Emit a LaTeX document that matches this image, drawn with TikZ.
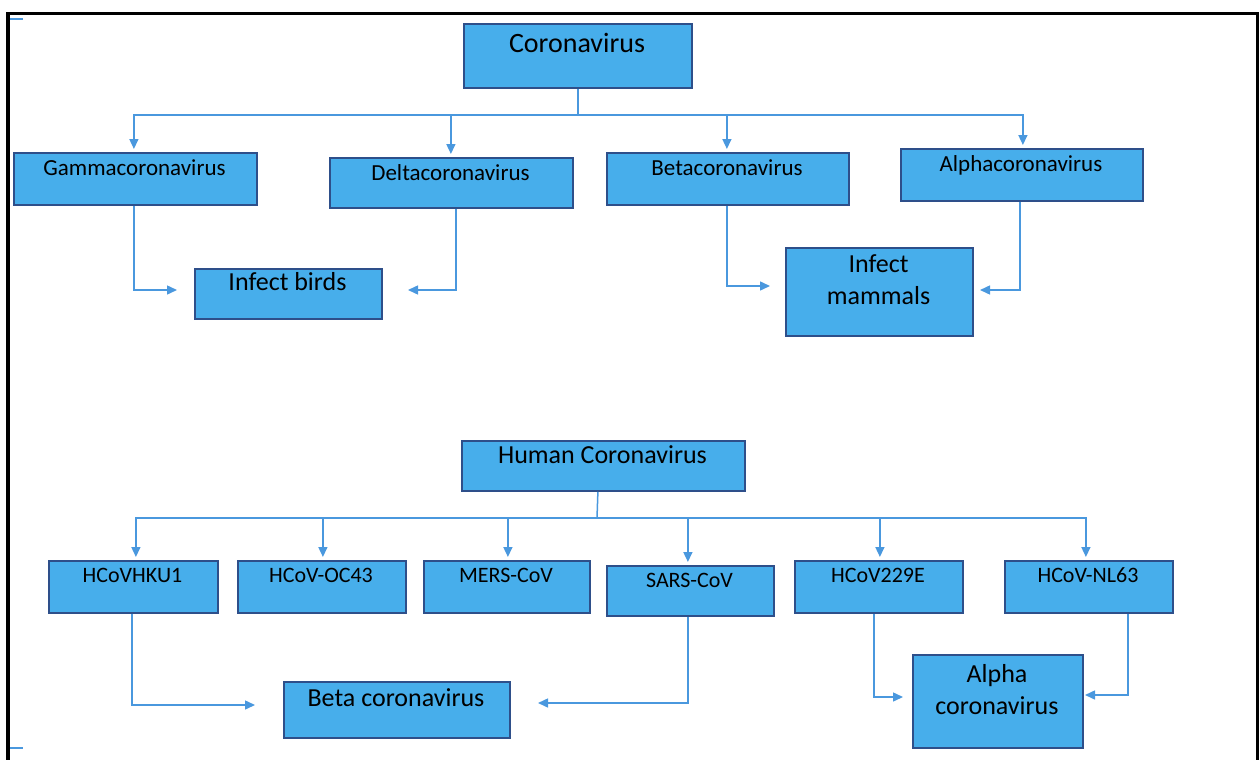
\documentclass[tikz,border=0pt]{standalone}
\usepackage{fontspec}
\setmainfont{Carlito}
\usetikzlibrary{arrows.meta}
\definecolor{boxfill}{HTML}{47AEEB}
\definecolor{boxline}{HTML}{2E4F8A}
\definecolor{arrowc}{HTML}{4A98DE}
\tikzset{
  box/.style={draw=boxline, fill=boxfill, line width=1.8pt, inner sep=0pt, anchor=north west},
  lbl/.style={text=black, inner sep=0pt, anchor=mid, align=center, yshift=-3.5pt},
  fa/.style={font=\fontsize{28}{30}\selectfont},
  fb/.style={font=\fontsize{23}{26}\selectfont},
  fc/.style={font=\fontsize{26}{32}\selectfont},
  fd/.style={font=\fontsize{22}{26}\selectfont},
  conn/.style={draw=arrowc, line width=1.5pt},
  arr/.style={conn, -{Triangle[length=10pt,width=9pt]}, shorten >=3pt},
  arrh/.style={conn, -{Triangle[length=10pt,width=9pt]}},
}
\begin{document}
\begin{tikzpicture}[x=1pt,y=-1pt]
\useasboundingbox (0,0) rectangle (1259,760);
% frame
\draw[line width=3.5pt] (8,760) -- (8,13.5) -- (1258,13.5) -- (1258,760);
\draw[arrowc, line width=1.5pt] (10,19) -- (23,19);
\draw[arrowc, line width=1.5pt] (10,748) -- (23,748);

% top tree
\node[box, minimum width=228pt, minimum height=64pt] (cv) at (463,23) {};
\node[lbl, fa] (cvT) at (577,47) {Coronavirus};

\node[box, minimum width=243pt, minimum height=52pt] (gam) at (13,152) {};
\node[lbl, fb] (gamT) at (134.5,170) {Gammacoronavirus};
\node[box, minimum width=243pt, minimum height=50pt] (del) at (329,157) {};
\node[lbl, fb] (delT) at (450.5,175) {Deltacoronavirus};
\node[box, minimum width=242pt, minimum height=52pt] (bet) at (606,152) {};
\node[lbl, fb] (betT) at (727,170) {Betacoronavirus};
\node[box, minimum width=242pt, minimum height=52pt] (alp) at (900,148) {};
\node[lbl, fb] (alpT) at (1021,166) {Alphacoronavirus};

\node[box, minimum width=187pt, minimum height=50pt] (birds) at (194,268) {};
\node[lbl, fc] (birdsT) at (287.5,285) {Infect birds};
\node[box, minimum width=187pt, minimum height=88pt] (mam) at (785,247) {};
\node[lbl, fc] (mamT1) at (878.5,267) {Infect};
\node[lbl, fc] (mamT2) at (878.5,299) {mammals};

\coordinate (j1) at (577,115);
\draw[conn] (cv.south) -- (cv.south |- j1);
\draw[arr] (j1) -| ([xshift=-1.5pt]gam.north);
\draw[arr] (j1) -| ([xshift=-0.5pt]del.north);
\draw[arr] (j1) -| ([xshift=-1pt]bet.north);
\draw[arr] (j1) -| ([xshift=1pt]alp.north);

\coordinate (tg) at (177,290);
\coordinate (td) at (408,290);
\coordinate (tb) at (770,286);
\coordinate (ta) at (980,290);
\draw[arrh] ([xshift=-1.5pt]gam.south) |- (tg);
\draw[arrh] ([xshift=4.5pt]del.south) |- (td);
\draw[arrh] ([xshift=-1pt]bet.south) |- (tb);
\draw[arrh] ([xshift=-2pt]alp.south) |- (ta);

% bottom tree
\node[box, minimum width=283pt, minimum height=50pt] (hc) at (461,440) {};
\node[lbl, fc] (hcT) at (602.5,458) {Human Coronavirus};

\node[box, minimum width=169pt, minimum height=52pt] (hku) at (48,560) {};
\node[lbl, fd] (hkuT) at (132.5,577) {HCoVHKU1};
\node[box, minimum width=168pt, minimum height=52pt] (oc) at (237,560) {};
\node[lbl, fd] (ocT) at (321,577) {HCoV-OC43};
\node[box, minimum width=166pt, minimum height=52pt] (mers) at (423,560) {};
\node[lbl, fd] (mersT) at (506,577) {MERS-CoV};
\node[box, minimum width=167pt, minimum height=50pt] (sars) at (606,565) {};
\node[lbl, fd] (sarsT) at (689.5,582) {SARS-CoV};
\node[box, minimum width=168pt, minimum height=52pt] (e229) at (794,560) {};
\node[lbl, fd] (e229T) at (878,577) {HCoV229E};
\node[box, minimum width=168pt, minimum height=52pt] (nl) at (1004,560) {};
\node[lbl, fd] (nlT) at (1088,577) {HCoV-NL63};

\node[box, minimum width=226pt, minimum height=56pt] (beta) at (283,681) {};
\node[lbl, fc] (betaT) at (396,701) {Beta coronavirus};
\node[box, minimum width=170pt, minimum height=93pt] (alpha) at (912,654) {};
\node[lbl, fc] (alphaT1) at (997,677) {Alpha};
\node[lbl, fc] (alphaT2) at (997,709) {coronavirus};

\coordinate (j2) at (597,518);
\draw[conn] ([xshift=-5.5pt]hc.south) -- (j2);
\draw[arr] (j2) -| ([xshift=2.5pt]hku.north);
\draw[arr] (j2) -| ([xshift=1pt]oc.north);
\draw[arr] (j2) -| ([xshift=1pt]mers.north);
\draw[arr] (j2) -| ([xshift=-2.5pt]sars.north);
\draw[arr] (j2) -| ([xshift=1pt]e229.north);
\draw[arr] (j2) -| ([xshift=-3pt]nl.north);

\coordinate (th) at (255,705);
\coordinate (ts) at (538,703);
\coordinate (te) at (903,697);
\coordinate (tn) at (1085,695);
\draw[arrh] ([xshift=-1.5pt]hku.south) |- (th);
\draw[arrh] ([xshift=-2.5pt]sars.south) |- (ts);
\draw[arrh] ([xshift=-5pt]e229.south) |- (te);
\draw[arrh] ([xshift=39pt]nl.south) |- (tn);
\end{tikzpicture}
\end{document}
